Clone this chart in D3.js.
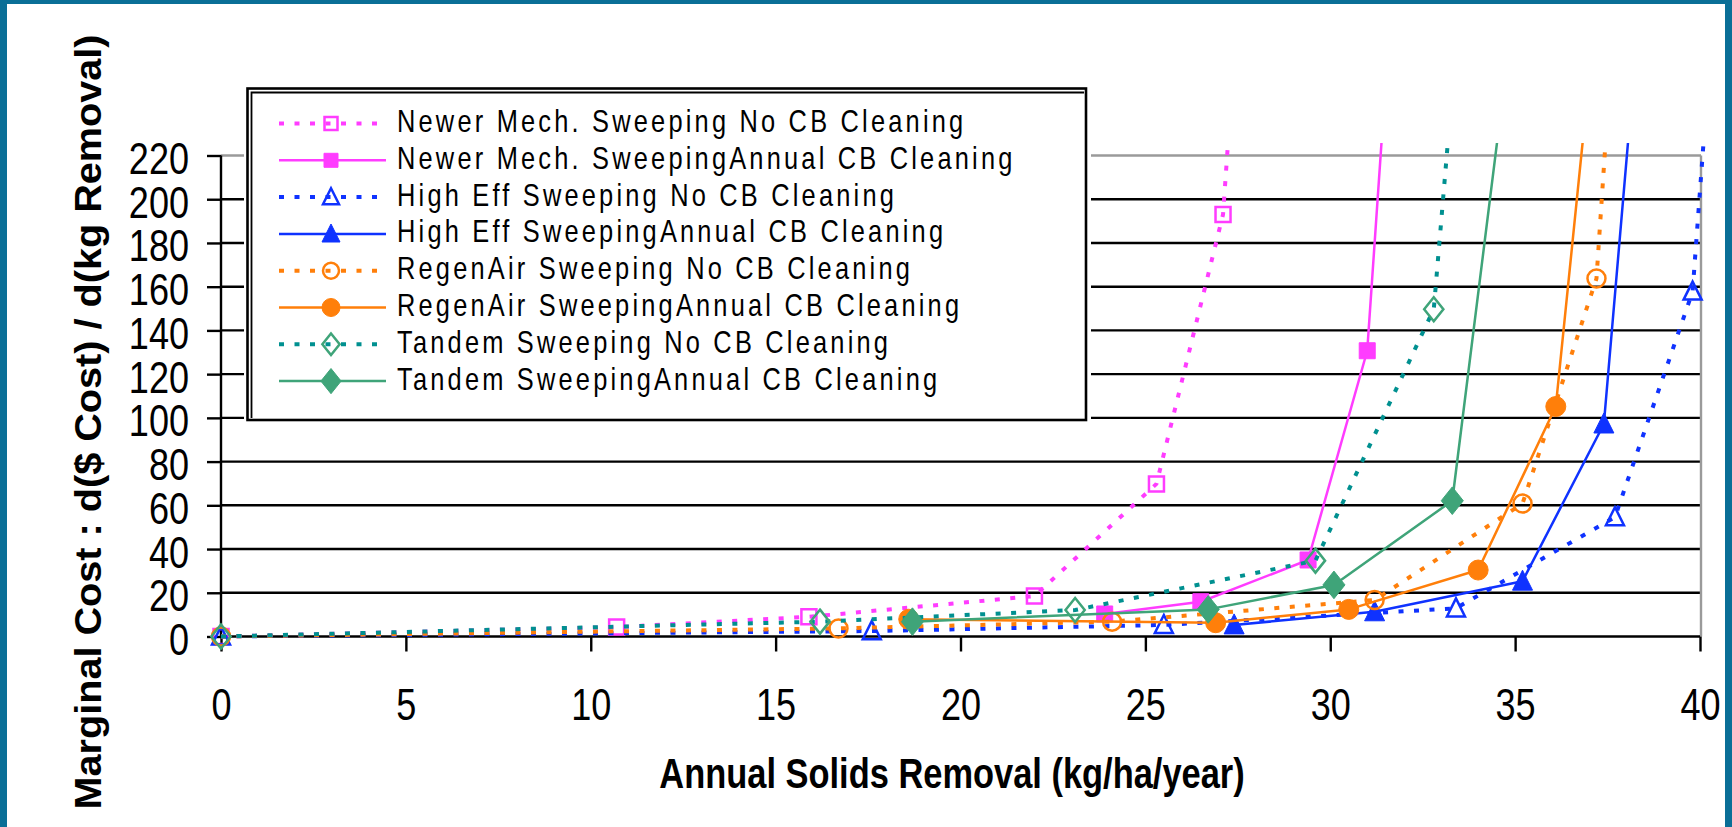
<!DOCTYPE html>
<html>
<head>
<meta charset="utf-8">
<script src="https://cdn.jsdelivr.net/npm/d3@7"></script>
<style>
  html, body { margin: 0; padding: 0; background: #ffffff; }
  svg { display: block; }
</style>
</head>
<body>
<svg id="chart" width="1732" height="827"></svg>
<script>
// Axis ticks
const xTicks = [0, 5, 10, 15, 20, 25, 30, 35, 40];
const yTicks = [0, 20, 40, 60, 80, 100, 120, 140, 160, 180, 200, 220];

// Series names (legend order)
const seriesNames = [
  "Newer Mech. Sweeping No CB Cleaning",
  "Newer Mech. SweepingAnnual CB Cleaning",
  "High Eff Sweeping No CB Cleaning",
  "High Eff SweepingAnnual CB Cleaning",
  "RegenAir Sweeping No CB Cleaning",
  "RegenAir SweepingAnnual CB Cleaning",
  "Tandem Sweeping No CB Cleaning",
  "Tandem SweepingAnnual CB Cleaning"
];

// Annual solids removal (kg/ha/year) and marginal cost ($ / kg removed)
const newerNoCbX     = [0, 10.7, 15.9, 22.0, 25.3, 27.1, 27.5];
const newerNoCbY     = [0, 4.3, 9.0, 18.5, 69.8, 193, 290];
const newerAnnualX   = [23.9, 26.5, 29.4, 31.0, 31.5];
const newerAnnualY   = [10.3, 15.9, 35.0, 130.7, 254];
const highEffNoCbX   = [0, 17.6, 25.5, 33.4, 37.7, 39.8, 40.2];
const highEffNoCbY   = [0, 2.5, 5.3, 12.9, 54.6, 157.8, 250];
const highEffAnnualX = [27.4, 31.2, 35.2, 37.4, 38.2];
const highEffAnnualY = [5.3, 11.3, 25.3, 97.2, 255];
const regenNoCbX     = [0, 16.7, 24.1, 31.2, 35.2, 37.2, 37.5];
const regenNoCbY     = [0, 3.7, 6.8, 16.7, 60.8, 163.7, 240];
const regenAnnualX   = [18.6, 26.9, 30.5, 34.0, 36.1, 37.0];
const regenAnnualY   = [7.9, 6.3, 12.4, 30.4, 105.2, 255];
const tandemNoCbX    = [0, 16.2, 23.1, 29.6, 32.8, 33.3];
const tandemNoCbY    = [0, 6.8, 12.1, 34.7, 149.7, 250];
const tandemAnnualX  = [18.7, 26.7, 30.1, 33.3, 34.6];
const tandemAnnualY  = [6.8, 12.4, 23.6, 62.1, 238];

const seriesX = [newerNoCbX, newerAnnualX, highEffNoCbX, highEffAnnualX, regenNoCbX, regenAnnualX, tandemNoCbX, tandemAnnualX];
const seriesY = [newerNoCbY, newerAnnualY, highEffNoCbY, highEffAnnualY, regenNoCbY, regenAnnualY, tandemNoCbY, tandemAnnualY];

// Styling per series
const PINK = "#ff3cff", BLUE = "#0f32ff", ORANGE = "#ff7f0a", TEAL = "#009090", GREEN = "#3fa479";
const seriesStyle = [
  { line: PINK,   mark: PINK,   dotted: true,  shape: "square",   filled: false },
  { line: PINK,   mark: PINK,   dotted: false, shape: "square",   filled: true  },
  { line: BLUE,   mark: BLUE,   dotted: true,  shape: "triangle", filled: false },
  { line: BLUE,   mark: BLUE,   dotted: false, shape: "triangle", filled: true  },
  { line: ORANGE, mark: ORANGE, dotted: true,  shape: "circle",   filled: false },
  { line: ORANGE, mark: ORANGE, dotted: false, shape: "circle",   filled: true  },
  { line: TEAL,   mark: GREEN,  dotted: true,  shape: "diamond",  filled: false },
  { line: GREEN,  mark: GREEN,  dotted: false, shape: "diamond",  filled: true  }
];

const series = seriesNames.map((name, i) => ({
  name,
  style: seriesStyle[i],
  points: seriesX[i].map((xv, j) => ({ x: xv, y: seriesY[i][j] }))
}));

// Condensed type: regular face squeezed horizontally
const FONT = "'Liberation Sans', Arial, sans-serif";
const SQUEEZE = 0.82;

const svg = d3.select("#chart");

// Frame
svg.append("rect").attr("x", 0).attr("y", 0).attr("width", 1732).attr("height", 827).attr("fill", "#0a6f97");
svg.append("rect").attr("x", 7).attr("y", 4).attr("width", 1718).attr("height", 830).attr("fill", "#ffffff");

// Scales
const x = d3.scaleLinear().domain([0, 40]).range([221, 1700]);
const y = d3.scaleLinear().domain([0, 220]).range([636.5, 155.5]);

// Gridlines
const grid = svg.append("g");
grid.selectAll("line.g")
  .data(yTicks.filter(t => t > 0))
  .join("line")
  .attr("x1", x(0)).attr("x2", d => d === 220 ? x(40) + 1 : x(40))
  .attr("y1", d => y(d)).attr("y2", d => y(d))
  .attr("stroke", d => d === 220 ? "#9a9a9a" : "#000")
  .attr("stroke-width", 2.4);
// plot-area right border
grid.append("line")
  .attr("x1", x(40) + 1).attr("x2", x(40) + 1)
  .attr("y1", y(220)).attr("y2", y(0))
  .attr("stroke", "#9a9a9a").attr("stroke-width", 2.4);

// Y axis
const Y_LABEL_GAP = 32;
const yAxis = svg.append("g")
  .attr("transform", `translate(${x(0)},0)`)
  .call(d3.axisLeft(y).tickValues(yTicks).tickSizeInner(14).tickSizeOuter(0).tickPadding(18));
yAxis.select(".domain").remove();
yAxis.selectAll(".tick line").attr("stroke", "#000").attr("stroke-width", 2.4);
yAxis.selectAll(".tick text")
  .attr("fill", "#000")
  .attr("x", -Y_LABEL_GAP / SQUEEZE)
  .attr("dy", "0.41em")
  .attr("transform", `scale(${SQUEEZE},1)`)
  .style("font-family", FONT).style("font-size", "44px");
yAxis.append("line")
  .attr("x1", 0).attr("x2", 0).attr("y1", y(220)).attr("y2", y(0))
  .attr("stroke", "#000").attr("stroke-width", 2.4);

// X axis
const xAxis = svg.append("g")
  .attr("transform", `translate(0,${y(0)})`)
  .call(d3.axisBottom(x).tickValues(xTicks).tickSizeInner(15).tickSizeOuter(0).tickPadding(37));
xAxis.select(".domain").remove();
xAxis.selectAll(".tick line").attr("stroke", "#000").attr("stroke-width", 2.4);
xAxis.selectAll(".tick text")
  .attr("fill", "#000")
  .attr("transform", `scale(${SQUEEZE},1)`)
  .style("font-family", FONT).style("font-size", "44px");
xAxis.append("line")
  .attr("x1", x(0)).attr("x2", x(40)).attr("y1", 0).attr("y2", 0)
  .attr("stroke", "#000").attr("stroke-width", 2.4);

// Axis titles
svg.append("text")
  .attr("transform", `translate(952,788) scale(${SQUEEZE},1)`)
  .attr("text-anchor", "middle")
  .style("font-family", FONT).style("font-weight", "bold").style("font-size", "42px")
  .text("Annual Solids Removal (kg/ha/year)");

svg.append("text")
  .attr("transform", "translate(101,422) rotate(-90)")
  .attr("text-anchor", "middle")
  .attr("textLength", 775).attr("lengthAdjust", "spacingAndGlyphs")
  .style("font-family", FONT).style("font-weight", "bold").style("font-size", "36px")
  .text("Marginal Cost : d($ Cost) / d(kg Removal)");

// Marker shapes
function markerPath(shape, s) {
  switch (shape) {
    case "square":   return `M${-s/2},${-s/2}h${s}v${s}h${-s}Z`;
    case "triangle": return `M0,${-s*0.55}L${s*0.5},${s*0.45}L${-s*0.5},${s*0.45}Z`;
    case "circle": { const r = s / 2; return `M${r},0A${r},${r} 0 1,1 ${-r},0A${r},${r} 0 1,1 ${r},0Z`; }
    case "diamond":  return `M0,${-s*0.6}L${s*0.48},0L0,${s*0.6}L${-s*0.48},0Z`;
  }
}
function markerSize(st) {
  if (st.shape === "square") return st.filled ? 16 : 15;
  if (st.shape === "diamond") return st.filled ? 23 : 20;
  if (st.shape === "circle") return st.filled ? 20 : 18;
  return st.filled ? 20 : 18;
}
function styleMarker(sel, st) {
  sel.attr("fill", st.filled ? st.mark : "none")
     .attr("stroke", st.mark)
     .attr("stroke-width", st.filled ? 1 : 2.5);
}
function styleLine(sel, st) {
  sel.attr("fill", "none").attr("stroke", st.line)
     .attr("stroke-width", st.dotted ? 4 : 2.5)
     .attr("stroke-dasharray", st.dotted ? "5 10.5" : null)
     .attr("stroke-linejoin", "round");
}

// Plot series
svg.append("clipPath").attr("id", "plotClip")
  .append("rect").attr("x", 200).attr("y", 143).attr("width", 1510).attr("height", 520);

const plot = svg.append("g").attr("clip-path", "url(#plotClip)");
const line = d3.line().x(d => x(d.x)).y(d => y(d.y));

series.forEach(s => {
  const g = plot.append("g");
  g.append("path").datum(s.points).attr("d", line).call(styleLine, s.style);
  g.selectAll("path.m")
    .data(s.points)
    .join("path")
    .attr("class", "m")
    .attr("transform", d => `translate(${x(d.x)},${y(d.y)})`)
    .attr("d", markerPath(s.style.shape, markerSize(s.style)))
    .call(styleMarker, s.style);
});

// Legend
const legend = svg.append("g");
legend.append("rect").attr("x", 244).attr("y", 85).attr("width", 847).attr("height", 337).attr("fill", "#fff");
legend.append("rect").attr("x", 247.5).attr("y", 88.5).attr("width", 838.5).attr("height", 331.5)
  .attr("fill", "none").attr("stroke", "#000").attr("stroke-width", 2.6);
legend.append("path").attr("d", "M251.5,418V92.5H1084")
  .attr("fill", "none").attr("stroke", "#000").attr("stroke-width", 1.8);

const rowY = i => 123.5 + i * 36.8;
series.forEach((s, i) => {
  const g = legend.append("g").attr("transform", `translate(0,${rowY(i)})`);
  g.append("line").attr("x1", 279).attr("x2", 386).attr("y1", 0).attr("y2", 0).call(styleLine, s.style);
  g.append("path").attr("transform", "translate(331,0)")
    .attr("d", markerPath(s.style.shape, markerSize(s.style) - 2))
    .call(styleMarker, s.style);
  g.append("text").attr("transform", `translate(397,8.5) scale(${SQUEEZE},1)`)
    .style("font-family", FONT).style("font-size", "31px").style("letter-spacing", "3.9px")
    .attr("fill", "#000")
    .text(s.name);
});
</script>
</body>
</html>
